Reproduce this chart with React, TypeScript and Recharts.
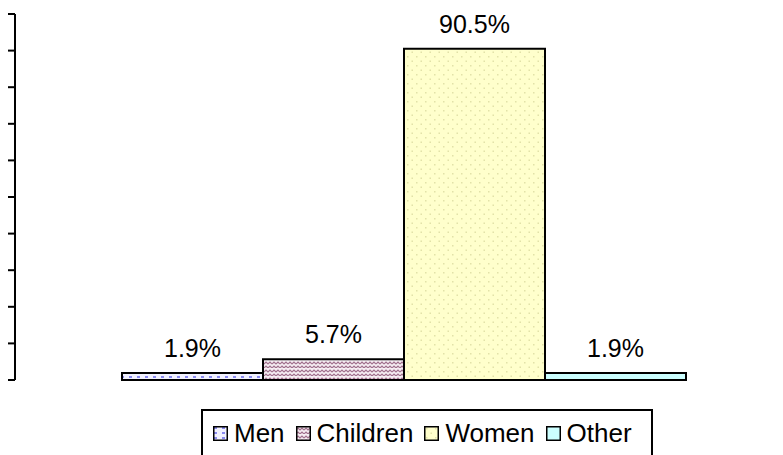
import { BarChart, Bar, XAxis, YAxis, LabelList, Legend } from "recharts";

// share of responses by group, in percent
const GROUPS = ["Men", "Children", "Women", "Other"];
const SHARES = [1.9, 5.7, 90.5, 1.9];
const Y_TICKS = [0, 10, 20, 30, 40, 50, 60, 70, 80, 90, 100];

const FILLS: Record<string, string> = {
    Men: "url(#patMen)",
    Children: "url(#patChildren)",
    Women: "url(#patWomen)",
    Other: "url(#patOther)",
};

const FONT = "'Liberation Sans', Arial, sans-serif";

const row: Record<string, number | string> = { name: "all" };
GROUPS.forEach((g, i) => {
    row[g] = SHARES[i];
});
const data = [row];

const Patterns = () => (
    <svg width={0} height={0} style={{ position: "absolute" }}>
        <defs>
            <pattern id="patMen" width={8} height={5} patternUnits="userSpaceOnUse">
                <rect width={8} height={5} fill="#f2f2ff" />
                <rect x={1} y={1} width={3} height={2} fill="#8a8af0" />
            </pattern>
            <pattern id="patChildren" width={8} height={8} patternUnits="userSpaceOnUse">
                <rect width={8} height={8} fill="#f6eef3" />
                <polyline points="0,4 2,2 4,4 6,2 8,4" fill="none" stroke="#a06f8c" strokeWidth={1.2} />
                <polyline points="0,8 2,6 4,8 6,6 8,8" fill="none" stroke="#a06f8c" strokeWidth={1.2} />
            </pattern>
            <pattern id="patWomen" width={9} height={9} patternUnits="userSpaceOnUse">
                <rect width={9} height={9} fill="#ffffcc" />
                <rect x={2} y={2} width={1.5} height={1.5} fill="#e2e2a8" />
                <rect x={6.5} y={6.5} width={1.5} height={1.5} fill="#e2e2a8" />
            </pattern>
            <pattern id="patOther" width={4} height={4} patternUnits="userSpaceOnUse">
                <rect width={4} height={4} fill="#ccffff" />
            </pattern>
        </defs>
    </svg>
);

const LegendBox = () => (
    <div
        style={{
            boxSizing: "border-box",
            width: 452,
            height: 60,
            border: "2px solid #000",
            display: "flex",
            alignItems: "flex-start",
            paddingTop: 9,
            paddingLeft: 10,
            fontFamily: FONT,
            fontSize: 26,
            color: "#000",
            background: "#fff",
        }}
    >
        {GROUPS.map((g) => (
            <div key={g} style={{ display: "flex", alignItems: "center", marginRight: 11 }}>
                <svg width={15} height={15} style={{ marginRight: 6 }}>
                    <rect x={0.75} y={0.75} width={13.5} height={13.5} fill={FILLS[g]} stroke="#000" strokeWidth={1.5} />
                </svg>
                <span style={{ lineHeight: "26px" }}>{g}</span>
            </div>
        ))}
    </div>
);

export default function App() {
    return (
        <div
            style={{
                position: "absolute",
                left: 0,
                top: 0,
                width: 783,
                height: 455,
                overflow: "hidden",
                background: "#fff",
                fontFamily: FONT,
            }}
        >
            <Patterns />
            <BarChart
                width={792}
                height={455}
                data={data}
                margin={{ top: 14, right: 0, left: 8, bottom: 75 }}
                barGap={0}
            >
                <XAxis
                    dataKey="name"
                    height={0}
                    tick={false}
                    tickLine={false}
                    axisLine={{ stroke: "#000", strokeWidth: 2 }}
                />
                <YAxis
                    type="number"
                    domain={[0, 100]}
                    ticks={Y_TICKS}
                    width={7}
                    tickSize={7}
                    tickFormatter={() => ""}
                    tickLine={{ stroke: "#000", strokeWidth: 2 }}
                    axisLine={{ stroke: "#000", strokeWidth: 2 }}
                />
                <Legend
                    verticalAlign="middle"
                    layout="horizontal"
                    content={() => <LegendBox />}
                    wrapperStyle={{ left: 201, top: 409, width: 452, height: 60 }}
                />
                {GROUPS.map((g) => (
                    <Bar
                        key={g}
                        dataKey={g}
                        name={g}
                        fill={FILLS[g]}
                        stroke="#000"
                        strokeWidth={2}
                        barSize={141}
                        isAnimationActive={false}
                    >
                        <LabelList
                            dataKey={g}
                            position="top"
                            offset={16}
                            fill="#000"
                            fontSize={25}
                            fontFamily={FONT}
                            formatter={(v: any) => `${Number(v).toFixed(1)}%`}
                        />
                    </Bar>
                ))}
            </BarChart>
        </div>
    );
}
